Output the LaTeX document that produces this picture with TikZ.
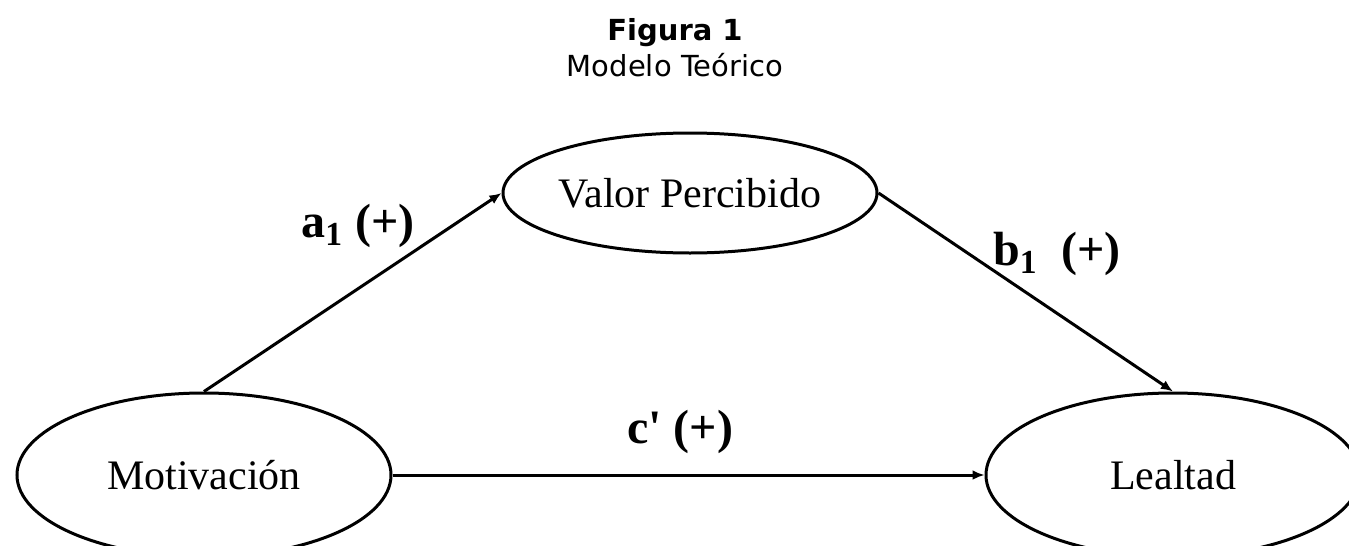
\documentclass[tikz,border=0pt]{standalone}
\usepackage{fontspec}
\setmainfont{Liberation Serif}
\newfontfamily\capfont{DejaVu Sans}
\usetikzlibrary{arrows.meta,shapes.geometric}

\begin{document}
\begin{tikzpicture}[
    x=0.5pt, y=-0.5pt,
    every node/.style={font=\fontsize{21}{25}\selectfont},
    var/.style={ellipse, draw, line width=1.5pt, inner sep=0pt,
                minimum width=187pt, minimum height=82pt},
    e/.style={line width=1.5pt, -{Latex[length=6pt, width=5pt]}},
    lbl/.style={font=\fontsize{24}{28}\selectfont\bfseries, inner sep=1pt},
    captxt/.style={font=\capfont\fontsize{14.5}{17}\selectfont, inner sep=0pt},
  ]
  \useasboundingbox (0,0) rectangle (1349,546);
  \node[captxt, font=\capfont\fontsize{14.5}{17}\selectfont\bfseries] (fig) at (675,33) {Figura 1};
  \node[captxt] (title) at (675,65) {Modelo Teórico};
  \node[var, minimum height=60pt] (valor) at (690,193) {Valor Percibido};
  \node[var] (mot) at (204,475) {Motivación};
  \node[var] (leal) at (1173,475) {Lealtad};
  \draw[e] (mot.north) -- (valor.west);
  \draw[e] (valor.east) -- (leal.north);
  \draw[e] (mot.east) -- (leal.west);
  \node[lbl] (la) at (358,226) {a\textsubscript{1} (+)};
  \node[lbl] (lb) at (1057,254) {b\textsubscript{1}\ \ (+)};
  \node[lbl] (lc) at (680,432) {c\textquotesingle\ (+)};
\end{tikzpicture}
\end{document}
